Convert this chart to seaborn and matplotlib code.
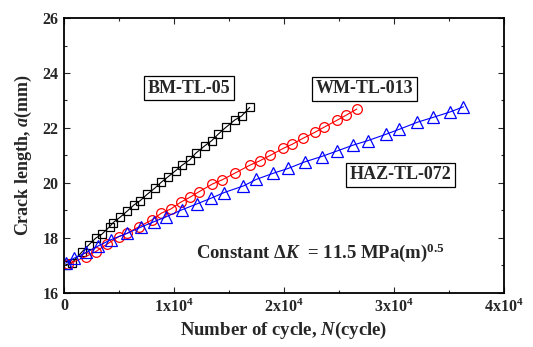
import matplotlib
matplotlib.use("Agg")
import matplotlib.pyplot as plt
from matplotlib.ticker import MultipleLocator, FuncFormatter
import seaborn as sns
import pandas as pd

# ---- data ----
bm_n = [150, 700, 1660, 2270, 2880, 3430, 4150, 4480, 5090, 5760, 6360, 6910, 7570, 8250,
        8850, 9480, 10150, 10750, 11430, 11970, 12790, 13430, 14030, 14700, 15520, 16150, 16880]
bm_a = [17.02, 17.08, 17.50, 17.75, 17.99, 18.13, 18.41, 18.56, 18.75, 18.98, 19.20, 19.35,
        19.59, 19.81, 20.03, 20.23, 20.45, 20.65, 20.84, 21.08, 21.35, 21.54, 21.78, 22.02,
        22.29, 22.44, 22.75]

wm_n = [400, 1970, 2880, 3940, 5000, 5750, 6820, 7970, 8850, 9700, 10610, 11450, 12270, 13480,
        14360, 15550, 16860, 17770, 18730, 19940, 20750, 21750, 22790, 23640, 24850, 25660, 26610]
wm_a = [17.04, 17.32, 17.50, 17.78, 18.05, 18.17, 18.41, 18.65, 18.90, 19.05, 19.30, 19.48,
        19.68, 19.96, 20.11, 20.36, 20.64, 20.80, 21.00, 21.26, 21.41, 21.63, 21.84, 22.03,
        22.29, 22.47, 22.69]

haz_n = [150, 910, 2030, 3120, 4240, 5760, 6970, 8180, 9300, 10700, 12100, 13400, 14550, 16300,
         17480, 19000, 20390, 21900, 23400, 24790, 26300, 27610, 29250, 30450, 32120, 33570,
         35060, 36300]
haz_a = [17.08, 17.26, 17.47, 17.71, 17.93, 18.17, 18.39, 18.59, 18.77, 19.02, 19.24, 19.45,
         19.65, 19.89, 20.13, 20.35, 20.53, 20.77, 20.96, 21.16, 21.38, 21.54, 21.77, 21.95,
         22.21, 22.39, 22.58, 22.77]

series_names = ["BM-TL-05", "WM-TL-013", "HAZ-TL-072"]
x_ticks = [0, 10000, 20000, 30000, 40000]
y_ticks = [16, 18, 20, 22, 24, 26]
annotation = r"Constant $\mathit{\Delta K}$  = 11.5 MPa(m)$^{0.5}$"

# ---- style ----
sns.set_style("ticks")
plt.rcParams["font.family"] = ["Liberation Serif", "DejaVu Serif"]
plt.rcParams["font.weight"] = "bold"
plt.rcParams["mathtext.fontset"] = "custom"
plt.rcParams["mathtext.rm"] = "Liberation Serif:bold"
plt.rcParams["mathtext.it"] = "Liberation Serif:italic:bold"
plt.rcParams["mathtext.bf"] = "Liberation Serif:bold"

fig = plt.figure(figsize=(5.33, 3.47), dpi=100)
ax = fig.add_axes([0.12, 0.156, 0.826, 0.792])

df_bm = pd.DataFrame({"N": bm_n, "a": bm_a})
df_wm = pd.DataFrame({"N": wm_n, "a": wm_a})
df_haz = pd.DataFrame({"N": haz_n, "a": haz_a})

sns.lineplot(data=df_bm, x="N", y="a", ax=ax, color="black", lw=0.8, marker="s",
             ms=6.3, mfc="none", mec="black", mew=0.9)
sns.lineplot(data=df_wm, x="N", y="a", ax=ax, color="red", lw=0.8, marker="o",
             ms=7, mfc="none", mec="red", mew=0.9)
sns.lineplot(data=df_haz, x="N", y="a", ax=ax, color="blue", lw=0.8, marker="^",
             ms=8, mfc="none", mec="blue", mew=0.9)

ax.set_xlim(0, 40000)
ax.set_ylim(16, 26)
ax.set_xticks(x_ticks)
ax.set_yticks(y_ticks)
ax.xaxis.set_minor_locator(MultipleLocator(5000))
ax.yaxis.set_minor_locator(MultipleLocator(1))


def fmt(v, pos):
    if v == 0:
        return "0"
    return r"%dx10$^{4}$" % int(round(v / 10000))


ax.xaxis.set_major_formatter(FuncFormatter(fmt))
ax.tick_params(which="both", direction="in", top=True, right=True, width=0.8)
ax.tick_params(which="major", length=4, labelsize=11.5, pad=4)
ax.tick_params(which="minor", length=2.5)
for lab in ax.get_xticklabels() + ax.get_yticklabels():
    lab.set_fontweight("bold")
for s in ax.spines.values():
    s.set_linewidth(1.3)
    s.set_color("black")

ax.set_xlabel(r"Number of cycle, $N$(cycle)", fontsize=13.5, fontweight="bold", labelpad=3)
ax.set_ylabel(r"Crack length, $a$(mm)", fontsize=13, fontweight="bold", labelpad=6)

box = dict(boxstyle="square,pad=0.2", fc="white", ec="black", lw=0.9)
ax.text(11360, 23.45, series_names[0], ha="center", va="center", fontsize=13,
        fontweight="bold", bbox=box)
ax.text(27320, 23.43, series_names[1], ha="center", va="center", fontsize=13,
        fontweight="bold", bbox=box)
ax.text(30610, 20.29, series_names[2], ha="center", va="center", fontsize=13,
        fontweight="bold", bbox=box)
ax.text(11970, 17.45, annotation, ha="left", va="center", fontsize=13.5, fontweight="bold")

fig.savefig("out.png", dpi=100)
